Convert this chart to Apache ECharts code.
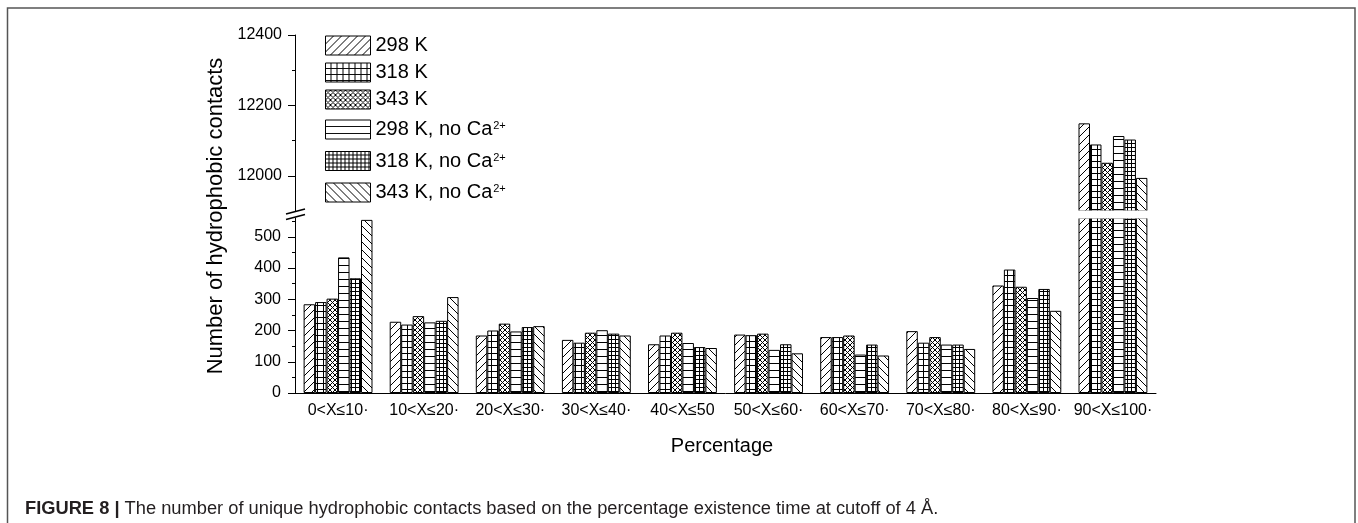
<!DOCTYPE html>
<html>
<head>
<meta charset="utf-8">
<title>Hydrophobic contacts</title>
<script src="https://cdn.jsdelivr.net/npm/echarts@6/dist/echarts.min.js"></script>
<style>
  html, body { margin: 0; padding: 0; background: #fff; }
  #chart { width: 1358px; height: 523px; }
</style>
</head>
<body>
<div id="chart"></div>
<script>
// x轴分类
const categories = ['0<X≤10·', '10<X≤20·', '20<X≤30·', '30<X≤40·', '40<X≤50',
  '50<X≤60·', '60<X≤70·', '70<X≤80·', '80<X≤90·', '90<X≤100·'];

// 各温度下的接触数
const k298 = [284, 228, 184, 170, 156, 187, 179, 198, 344, 12149];
const k318 = [291, 219, 200, 161, 184, 185, 179, 161, 395, 12089];
const k343 = [302, 246, 222, 193, 193, 190, 184, 179, 340, 12037];
const k298NoCa = [434, 226, 197, 201, 160, 138, 123, 155, 304, 12113];
const k318NoCa = [367, 231, 211, 190, 147, 156, 155, 155, 333, 12103];
const k343NoCa = [554, 307, 214, 184, 144, 127, 120, 141, 263, 11994];

const seriesNames = ['298 K', '318 K', '343 K', '298 K, no Ca', '318 K, no Ca', '343 K, no Ca'];
const seriesData = [k298, k318, k343, k298NoCa, k318NoCa, k343NoCa];
const hatchKinds = ['fwd', 'grid', 'cross', 'horiz', 'fine', 'back'];

// 断轴的刻度
const lowerTicks = [0, 100, 200, 300, 400, 500];
const lowerMinorTicks = [50, 150, 250, 350, 450, 550];
const upperTicks = [12000, 12200, 12400];
const upperMinorTicks = [12100, 12300];

const LOWER_MAX = 560;
const UPPER_MIN = 11900;
const UPPER_MAX = 12400;

const FONT = "'Liberation Sans', Arial, sans-serif";

/**
 * @description 生成填充用的阴影线图案
 */
function makeHatch(kind) {
  const size = { fwd: 8, back: 8, grid: 6, cross: 5, horiz: 7, fine: 4 }[kind];
  const c = document.createElement('canvas');
  c.width = size;
  c.height = size;
  const ctx = c.getContext('2d');
  const s = size;
  ctx.fillStyle = '#fff';
  ctx.fillRect(0, 0, s, s);
  ctx.strokeStyle = '#000';
  ctx.lineWidth = 1;
  ctx.beginPath();
  if (kind === 'fwd' || kind === 'cross') {
    ctx.moveTo(0, s); ctx.lineTo(s, 0);
    ctx.moveTo(-1, 1); ctx.lineTo(1, -1);
    ctx.moveTo(s - 1, s + 1); ctx.lineTo(s + 1, s - 1);
  }
  if (kind === 'back' || kind === 'cross') {
    ctx.moveTo(0, 0); ctx.lineTo(s, s);
    ctx.moveTo(-1, s - 1); ctx.lineTo(1, s + 1);
    ctx.moveTo(s - 1, -1); ctx.lineTo(s + 1, 1);
  }
  if (kind === 'horiz' || kind === 'grid' || kind === 'fine') {
    ctx.moveTo(0, s - 0.5); ctx.lineTo(s, s - 0.5);
  }
  if (kind === 'grid' || kind === 'fine') {
    ctx.moveTo(s - 0.5, 0); ctx.lineTo(s - 0.5, s);
  }
  ctx.stroke();
  return c;
}

const series = [];
seriesNames.forEach((name, i) => {
  const itemStyle = {
    color: { image: makeHatch(hatchKinds[i]), repeat: 'repeat' },
    borderColor: '#000',
    borderWidth: 1
  };
  // 下半部分
  series.push({
    name,
    type: 'bar',
    xAxisIndex: 0,
    yAxisIndex: 0,
    data: seriesData[i],
    barGap: '0%',
    barCategoryGap: '20%',
    itemStyle,
    emphasis: { disabled: true }
  });
  // 上半部分（只有超过断点的柱子）
  series.push({
    name,
    type: 'bar',
    xAxisIndex: 2,
    yAxisIndex: 2,
    data: seriesData[i].map(v => (v >= UPPER_MIN ? v : '-')),
    barGap: '0%',
    barCategoryGap: '20%',
    itemStyle,
    emphasis: { disabled: true }
  });
});

const legendTops = [35.5, 62.5, 89.5, 119.5, 151, 182.5];

const axisLineStyle = { color: '#000', width: 1 };
const labelStyle = { color: '#000', fontSize: 16, fontFamily: FONT };
const plainNumber = v => String(v);

const option = {
  animation: false,
  backgroundColor: '#fff',
  grid: [
    { left: 295, width: 861, top: 218, height: 175 },
    { left: 295, width: 861, top: 35, height: 176 }
  ],
  legend: seriesNames.map((name, i) => ({
    data: [name],
    left: 325,
    top: legendTops[i],
    orient: 'vertical',
    icon: 'rect',
    itemWidth: 45,
    itemHeight: 19,
    padding: 0,
    selectedMode: false,
    itemStyle: { borderColor: '#000', borderWidth: 1 },
    formatter: n => (n.indexOf('no Ca') >= 0 ? n + '{sup|2+}' : n),
    textStyle: {
      color: '#000',
      fontSize: 20,
      fontFamily: FONT,
      rich: {
        sup: { fontSize: 11, fontFamily: FONT, color: '#000', verticalAlign: 'top', padding: [1, 0, 0, 1] }
      }
    }
  })),
  xAxis: [
    {
      type: 'category',
      gridIndex: 0,
      data: categories,
      axisLine: { lineStyle: axisLineStyle },
      axisTick: { length: 6, lineStyle: axisLineStyle },
      axisLabel: Object.assign({ interval: 0, margin: 10 }, labelStyle)
    },
    {
      type: 'category',
      gridIndex: 0,
      data: categories,
      axisLine: { show: false },
      axisTick: { alignWithLabel: true, length: 9, lineStyle: axisLineStyle },
      axisLabel: { show: false }
    },
    { type: 'category', gridIndex: 1, data: categories, show: false }
  ],
  yAxis: [
    {
      type: 'value',
      gridIndex: 0,
      position: 'left',
      min: 0,
      max: LOWER_MAX,
      interval: 100,
      axisLine: { show: true, lineStyle: axisLineStyle },
      axisTick: { show: true, length: 7, customValues: lowerTicks, lineStyle: axisLineStyle },
      axisLabel: Object.assign({ customValues: lowerTicks, margin: 14, formatter: plainNumber }, labelStyle),
      splitLine: { show: false }
    },
    {
      type: 'value',
      gridIndex: 0,
      position: 'left',
      min: 0,
      max: LOWER_MAX,
      axisLine: { show: false },
      axisTick: { show: true, length: 3, customValues: lowerMinorTicks, lineStyle: axisLineStyle },
      axisLabel: { show: false },
      splitLine: { show: false }
    },
    {
      type: 'value',
      gridIndex: 1,
      position: 'left',
      min: UPPER_MIN,
      max: UPPER_MAX,
      interval: 100,
      axisLine: { show: true, lineStyle: axisLineStyle },
      axisTick: { show: true, length: 7, customValues: upperTicks, lineStyle: axisLineStyle },
      axisLabel: Object.assign({ customValues: upperTicks, margin: 13, formatter: plainNumber }, labelStyle),
      splitLine: { show: false }
    },
    {
      type: 'value',
      gridIndex: 1,
      position: 'left',
      min: UPPER_MIN,
      max: UPPER_MAX,
      axisLine: { show: false },
      axisTick: { show: true, length: 3, customValues: upperMinorTicks, lineStyle: axisLineStyle },
      axisLabel: { show: false },
      splitLine: { show: false }
    }
  ],
  series,
  graphic: [
    // 外框
    {
      type: 'rect',
      shape: { x: 7.5, y: 8, width: 1347.5, height: 600 },
      style: { fill: 'none', stroke: '#555', lineWidth: 1.5 },
      silent: true
    },
    // 断轴处遮挡
    {
      type: 'rect',
      z: 100,
      shape: { x: 297, y: 210.5, width: 870, height: 8 },
      style: { fill: '#fff' },
      silent: true
    },
    {
      type: 'line',
      z: 101,
      shape: { x1: 286, y1: 214, x2: 305, y2: 209 },
      style: { stroke: '#000', lineWidth: 1.6 }
    },
    {
      type: 'line',
      z: 101,
      shape: { x1: 286, y1: 219.5, x2: 305, y2: 214.5 },
      style: { stroke: '#000', lineWidth: 1.6 }
    },
    // 坐标轴标题
    {
      type: 'text',
      x: 216,
      y: 216,
      rotation: Math.PI / 2,
      style: {
        text: 'Number of hydrophobic contacts',
        fill: '#000',
        font: "22px 'Liberation Sans', Arial, sans-serif",
        align: 'center',
        verticalAlign: 'middle'
      }
    },
    {
      type: 'text',
      x: 722,
      y: 446,
      style: {
        text: 'Percentage',
        fill: '#000',
        font: "20px 'Liberation Sans', Arial, sans-serif",
        align: 'center',
        verticalAlign: 'middle'
      }
    },
    // 图注
    {
      type: 'text',
      x: 25,
      y: 509,
      style: {
        text: '{b|FIGURE 8 |} The number of unique hydrophobic contacts based on the percentage existence time at cutoff of 4 Å.',
        fill: '#231f20',
        fontSize: 18.3,
        fontFamily: FONT,
        verticalAlign: 'middle',
        rich: {
          b: { fontWeight: 'bold', fontSize: 18.3, fontFamily: FONT, fill: '#231f20' }
        }
      }
    }
  ]
};

const myChart = echarts.init(document.getElementById('chart'));
myChart.setOption(option);
</script>
</body>
</html>
